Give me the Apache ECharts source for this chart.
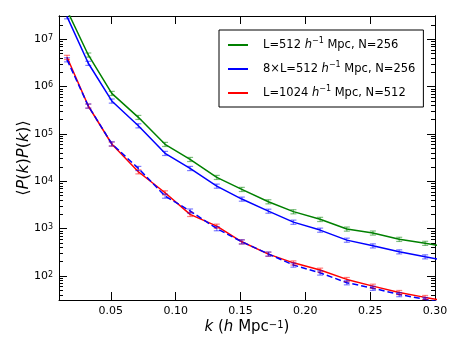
<!DOCTYPE html>
<html><head><meta charset="utf-8">
<script src="https://cdn.jsdelivr.net/npm/echarts@6/dist/echarts.min.js"></script>
<style>html,body{margin:0;padding:0;background:#fff}#c{width:458px;height:345px}</style>
</head><body><div id="c"></div>
<script>
// k bins (h/Mpc)
const kValues = [0.0162, 0.0326, 0.0507, 0.0712, 0.0918, 0.1111, 0.1317, 0.1510, 0.1715, 0.1908, 0.2114, 0.2320, 0.2521, 0.2724, 0.2924, 0.3127];
// L=512, N=256 (green)
const greenVals = [4.1e7, 4.66e6, 7.2e5, 2.24e5, 6.03e4, 2.9e4, 1.21e4, 6.75e3, 3.7e3, 2.28e3, 1.57e3, 982, 809, 595, 490, 398];
const greenErr  = [4.1e6, 4.7e5, 7.2e4, 2.2e4, 6.0e3, 2.9e3, 1.2e3, 680, 370, 230, 160, 98, 81, 60, 49, 40];
// 8xL=512, N=256 (blue solid)
const blueVals = [3.0e7, 3.11e6, 4.97e5, 1.49e5, 3.89e4, 1.87e4, 7.92e3, 4.21e3, 2.34e3, 1.37e3, 930, 571, 433, 324, 254, 200];
const blueErr  = [3.0e6, 3.1e5, 5.0e4, 1.5e4, 3.9e3, 1.9e3, 790, 420, 230, 140, 93, 57, 43, 32, 25, 20];
// L=1024, N=512 (red)
const redVals = [4.16e6, 3.89e5, 6.12e4, 1.59e4, 5.71e3, 2.0e3, 1.13e3, 526, 289, 189, 133, 84.4, 60.9, 44.8, 35.2, 27.7];
const redErr  = [4.2e5, 3.9e4, 6.1e3, 1.6e3, 570, 200, 113, 53, 29, 19, 13, 8.4, 6.1, 4.5, 3.5, 2.8];
// blue dashed (no legend entry)
const dashVals = [3.7e6, 3.9e5, 6.2e4, 1.87e4, 4.87e3, 2.36e3, 1.0e3, 526, 291, 170, 116, 72, 55, 40.5, 32, 25];
const dashErr  = [3.7e5, 3.9e4, 6.2e3, 1.9e3, 490, 236, 100, 53, 29, 17, 12, 7.2, 5.5, 4.1, 3.2, 2.5];

// axis ticks
const xTickValues = [0.05, 0.10, 0.15, 0.20, 0.25, 0.30];
const yMajorTicks = [1e2, 1e3, 1e4, 1e5, 1e6, 1e7];
const yMinorTicks = [40,50,60,70,80,90, 200,300,400,500,600,700,800,900,
  2e3,3e3,4e3,5e3,6e3,7e3,8e3,9e3, 2e4,3e4,4e4,5e4,6e4,7e4,8e4,9e4,
  2e5,3e5,4e5,5e5,6e5,7e5,8e5,9e5, 2e6,3e6,4e6,5e6,6e6,7e6,8e6,9e6, 2e7,3e7];

const names = ['L=512 h^-1 Mpc, N=256', '8xL=512 h^-1 Mpc, N=256', 'L=1024 h^-1 Mpc, N=512'];
const legendRich = {
  [names[0]]: 'L=512 {i|h}{s|−1} Mpc, N=256',
  [names[1]]: '8×L=512 {i|h}{s|−1} Mpc, N=256',
  [names[2]]: 'L=1024 {i|h}{s|−1} Mpc, N=512'
};

const FONT = 'DejaVu Sans';
const GREEN = '#008000', BLUE = '#0000ff', RED = '#ff0000';

function pairs(vals){ return kValues.map((k,i)=>[k, vals[i]]); }
function errData(vals, errs){ return kValues.map((k,i)=>[k, vals[i]-errs[i], vals[i]+errs[i]]); }
function errSeries(vals, errs, color){
  return {
    type:'custom', silent:true, clip:true, z:3,
    data: errData(vals, errs),
    encode:{x:0, y:[1,2]},
    renderItem: function(params, api){
      const lo = api.coord([api.value(0), api.value(1)]);
      const hi = api.coord([api.value(0), api.value(2)]);
      const w = 3;
      const st = {stroke: color, lineWidth: 1.2, opacity: 0.5};
      return {type:'group', children:[
        {type:'line', shape:{x1:lo[0], y1:lo[1], x2:hi[0], y2:hi[1]}, style:st},
        {type:'line', shape:{x1:lo[0]-w, y1:lo[1], x2:lo[0]+w, y2:lo[1]}, style:st},
        {type:'line', shape:{x1:hi[0]-w, y1:hi[1], x2:hi[0]+w, y2:hi[1]}, style:st}
      ]};
    }
  };
}

const xMin = 0.01, xMax = 0.30, yMin = 31, yMax = 3.1e7;
const axisLine = {show:true, onZero:false, lineStyle:{color:'#000', width:1}};
const xBase = {type:'value', min:xMin, max:xMax, splitLine:{show:false}, axisLine};
const yBase = {type:'log', logBase:10, min:yMin, max:yMax, splitLine:{show:false}, axisLine};
const majorTickX = {show:true, inside:true, length:8, customValues:xTickValues, lineStyle:{color:'#000', width:1}};
const majorTickY = {show:true, inside:true, length:8, customValues:yMajorTicks, lineStyle:{color:'#000', width:1}};
const minorTickY = {show:true, inside:true, length:4, customValues:yMinorTicks, lineStyle:{color:'#000', width:1}};

const chart = echarts.init(document.getElementById('c'), null, {renderer:'canvas'});
chart.setOption({
  animation:false,
  backgroundColor:'#fff',
  textStyle:{fontFamily:FONT},
  grid:{left:59, right:23, top:16, bottom:45, containLabel:false},
  legend:{
    orient:'vertical', left:219, top:30,
    data:names, icon:'rect', itemWidth:20, itemHeight:2, itemGap:8,
    padding:[7,8,6,9], borderColor:'#000', borderWidth:1, borderRadius:0, backgroundColor:'#fff',
    formatter: n => legendRich[n],
    textStyle:{fontSize:11.5, fontFamily:FONT, color:'#000', lineHeight:16, padding:[0,0,0,10],
      rich:{i:{fontStyle:'italic', fontSize:11.5, fontFamily:FONT, color:'#000'},
            s:{fontSize:8, fontFamily:FONT, color:'#000', verticalAlign:'top', lineHeight:10}}}
  },
  xAxis:[
    Object.assign({}, xBase, {position:'bottom',
      name:'{i|k} ({i|h} Mpc{s|−1})', nameLocation:'middle', nameGap:20, nameMoveOverlap:false,
      nameTextStyle:{fontSize:15, fontFamily:FONT, color:'#000',
        rich:{i:{fontStyle:'italic', fontSize:15, fontFamily:FONT, color:'#000'},
              s:{fontSize:10, fontFamily:FONT, color:'#000', verticalAlign:'top', lineHeight:12}}},
      axisTick:majorTickX,
      axisLabel:{customValues:xTickValues, formatter:v=>v.toFixed(2), color:'#000', fontSize:11, fontFamily:FONT, margin:6}}),
    Object.assign({}, xBase, {position:'top', axisTick:majorTickX, axisLabel:{show:false}})
  ],
  yAxis:[
    Object.assign({}, yBase, {position:'left',
      name:'⟨{i|P}({i|k}){i|P}({i|k})⟩', nameLocation:'middle', nameGap:27, nameMoveOverlap:false,
      nameTextStyle:{fontSize:16, fontFamily:FONT, color:'#000',
        rich:{i:{fontStyle:'italic', fontSize:16, fontFamily:FONT, color:'#000'}}},
      axisTick:majorTickY,
      axisLabel:{customValues:yMajorTicks, color:'#000', fontSize:11, fontFamily:FONT, margin:6,
        formatter: v => '10{s|' + Math.round(Math.log10(v)) + '}',
        rich:{s:{fontSize:8, fontFamily:FONT, color:'#000', verticalAlign:'top', lineHeight:10}}}}),
    Object.assign({}, yBase, {position:'left', axisTick:minorTickY, axisLabel:{show:false}}),
    Object.assign({}, yBase, {position:'right', axisTick:majorTickY, axisLabel:{show:false}}),
    Object.assign({}, yBase, {position:'right', axisTick:minorTickY, axisLabel:{show:false}})
  ],
  series:[
    {name:names[0], type:'line', data:pairs(greenVals), showSymbol:false, symbol:'none', color:GREEN, lineStyle:{color:GREEN, width:1.5}, z:2},
    {name:names[1], type:'line', data:pairs(blueVals), showSymbol:false, symbol:'none', color:BLUE, lineStyle:{color:BLUE, width:1.5}, z:2},
    {name:names[2], type:'line', data:pairs(redVals), showSymbol:false, symbol:'none', color:RED, lineStyle:{color:RED, width:1.5}, z:2},
    {name:'dashed', type:'line', data:pairs(dashVals), showSymbol:false, symbol:'none', color:BLUE, lineStyle:{color:BLUE, width:1.5, type:[6,3]}, z:2},
    errSeries(greenVals, greenErr, GREEN),
    errSeries(blueVals, blueErr, BLUE),
    errSeries(redVals, redErr, RED),
    errSeries(dashVals, dashErr, BLUE)
  ]
});
</script>
</body></html>
